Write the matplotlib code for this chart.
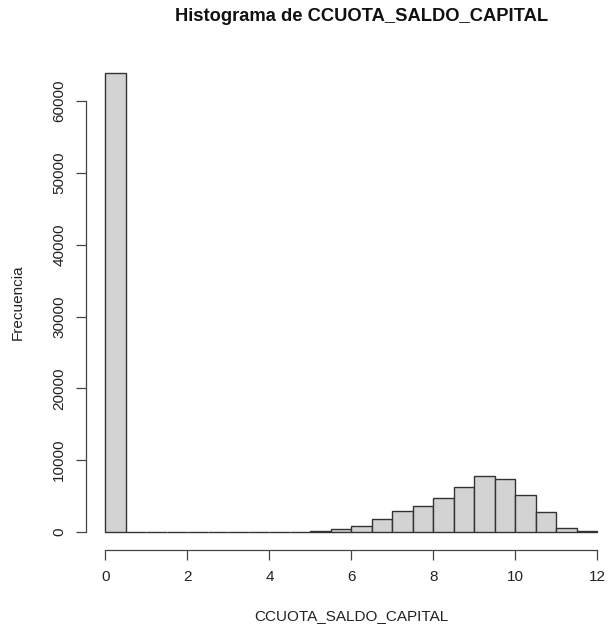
import matplotlib
matplotlib.use("Agg")
import matplotlib.pyplot as plt
import numpy as np

plt.rcParams['font.family'] = ['Liberation Sans', 'DejaVu Sans']

# histogram bins (width 0.5) and counts
bin_edges = np.arange(0, 12.5, 0.5)
counts = [63900, 15, 10, 10, 8, 8, 10, 10, 30, 60, 200, 370, 880, 1810,
          2880, 3620, 4780, 6220, 7750, 7430, 5200, 2780, 510, 80]

x_ticks = [0, 2, 4, 6, 8, 10, 12]
y_ticks = [0, 10000, 20000, 30000, 40000, 50000, 60000]

title = "Histograma de CCUOTA_SALDO_CAPITAL"
xlabel = "CCUOTA_SALDO_CAPITAL"
ylabel = "Frecuencia"

fig = plt.figure(figsize=(6.08, 6.29), dpi=100)
ax = fig.add_axes([0.141, 0.125, 0.874, 0.788])

ax.hist(bin_edges[:-1], bins=bin_edges, weights=counts,
        color='#d3d3d3', edgecolor='#333333', linewidth=1.0)

ax.set_xlim(-0.48, 12.48)
ax.set_ylim(-0.04 * 63900, 63900 * 1.04)

# R style detached axes
for s in ['top', 'right']:
    ax.spines[s].set_visible(False)
ax.spines['left'].set_bounds(0, 60000)
ax.spines['bottom'].set_bounds(0, 12)
for s in ['left', 'bottom']:
    ax.spines[s].set_color('#444444')
    ax.spines[s].set_linewidth(0.9)

ax.set_xticks(x_ticks)
ax.set_yticks(y_ticks)
ax.set_yticklabels([str(v) for v in y_ticks], rotation=90, va='center')
ax.tick_params(axis='both', length=7, width=0.9, color='#444444',
               labelsize=11, labelcolor='#222222', pad=7)

ax.set_xlabel(xlabel, fontsize=11, color='#222222', labelpad=18)
ax.set_ylabel(ylabel, fontsize=11, color='#222222', labelpad=20)
fig.text(0.594, 0.974, title, ha='center', va='center',
         fontsize=13.2, fontweight='bold', color='#111111')

fig.savefig("out.png", dpi=100)
